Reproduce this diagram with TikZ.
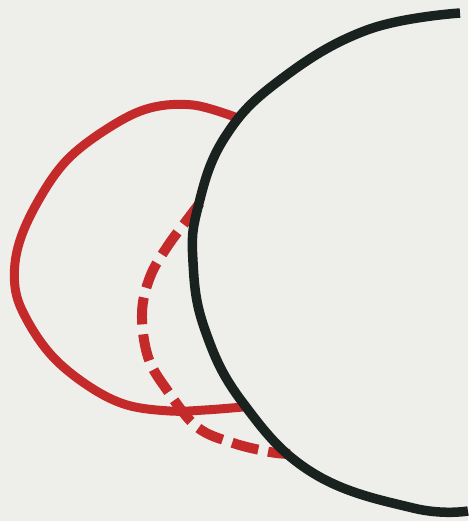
\documentclass[tikz,border=0pt]{standalone}
\definecolor{bgc}{HTML}{EEEEEA}
\definecolor{redc}{HTML}{C42A2A}
\definecolor{blackc}{HTML}{1A2220}
\begin{document}
\begin{tikzpicture}[x=1pt,y=-1pt,
  redline/.style={draw=redc,line width=9pt},
  reddash/.style={draw=redc,line width=10pt,dash pattern=on 27pt off 10pt},
  blackline/.style={draw=blackc,line width=9.5pt}]
\fill[bgc] (0,0) rectangle (468,521);
\useasboundingbox (0,0) rectangle (468,521);
\draw[redline] plot[smooth,tension=0.6] coordinates {(235,117) (193,105) (150,108) (110,127) (67,160) (37,203) (18,247) (15,287) (27,320) (53,357) (90,387) (127,405) (170,411) (205,410) (243,407)};
\draw[reddash] plot[smooth,tension=0.6] coordinates {(200,203) (187,220) (167,247) (150,277) (142,313) (148,357) (167,390) (197,427) (233,443) (270,452) (290,454)};
\draw[blackline] plot[smooth,tension=0.7] coordinates {(460,13) (367,30) (280,80) (225,137) (198,207) (193,262) (205,330) (243,403) (313,473) (413,508) (468,511)};
\end{tikzpicture}
\end{document}
